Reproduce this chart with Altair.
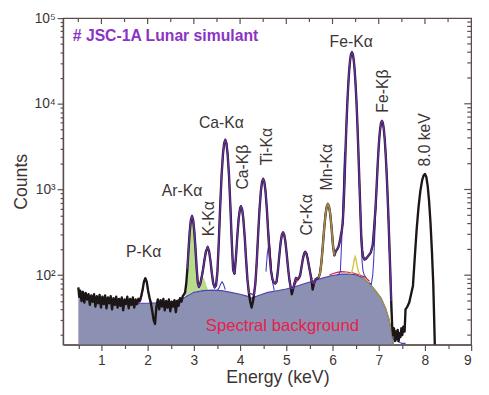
import altair as alt
import pandas as pd

# ---------------- values ----------------
# measured spectrum (black)
spec_keV = [
    0.50, 0.52, 0.54, 0.57, 0.60, 0.63, 0.66, 0.69, 0.72, 0.75, 0.78, 0.81, 0.84, 0.87, 0.90,
    0.93, 0.96, 0.99, 1.02, 1.05, 1.08, 1.11, 1.14, 1.17, 1.20, 1.23, 1.26, 1.29, 1.32, 1.35,
    1.38, 1.41, 1.44, 1.47, 1.50, 1.53, 1.56, 1.59, 1.62, 1.65, 1.68, 1.71, 1.74, 1.77, 1.80,
    1.83, 1.86, 1.89, 1.92, 1.95, 1.98, 2.01, 2.04, 2.07, 2.10, 2.13, 2.16, 2.19, 2.22, 2.25,
    2.28, 2.31, 2.34, 2.37, 2.40, 2.43, 2.46, 2.49, 2.52, 2.55, 2.58, 2.61, 2.64, 2.67, 2.70,
    2.73, 2.76, 2.79, 2.81, 2.835, 2.86, 2.885, 2.91, 2.935, 2.96, 2.985, 3.01, 3.035, 3.06, 3.085,
    3.11, 3.14, 3.17, 3.20, 3.23, 3.26, 3.30, 3.33, 3.36, 3.39, 3.42, 3.45, 3.48, 3.51, 3.54,
    3.57, 3.60, 3.63, 3.655, 3.68, 3.705, 3.73, 3.76, 3.79, 3.82, 3.85, 3.88, 3.91, 3.94, 3.97,
    4.00, 4.02, 4.045, 4.07, 4.10, 4.13, 4.16, 4.19, 4.22, 4.25, 4.28, 4.30, 4.33, 4.36, 4.39,
    4.42, 4.45, 4.475, 4.50, 4.525, 4.55, 4.58, 4.61, 4.64, 4.67, 4.70, 4.73, 4.76, 4.79, 4.82,
    4.85, 4.88, 4.905, 4.93, 4.955, 4.98, 5.01, 5.04, 5.07, 5.10, 5.12, 5.15, 5.18, 5.21, 5.24,
    5.27, 5.30, 5.33, 5.36, 5.385, 5.41, 5.435, 5.46, 5.49, 5.52, 5.55, 5.57, 5.60, 5.63, 5.67,
    5.70, 5.73, 5.76, 5.79, 5.82, 5.85, 5.875, 5.90, 5.925, 5.95, 5.98, 6.01, 6.04, 6.07, 6.10,
    6.13, 6.16, 6.18, 6.20, 6.22, 6.24, 6.26, 6.28, 6.30, 6.32, 6.34, 6.36, 6.38, 6.40, 6.42,
    6.44, 6.46, 6.48, 6.50, 6.52, 6.54, 6.56, 6.58, 6.60, 6.62, 6.64, 6.66, 6.69, 6.72, 6.75,
    6.79, 6.83, 6.87, 6.89, 6.91, 6.93, 6.95, 6.97, 6.99, 7.01, 7.03, 7.05, 7.07, 7.09, 7.11,
    7.13, 7.15, 7.17, 7.19, 7.21, 7.23, 7.25, 7.27, 7.29, 7.31, 7.33, 7.35, 7.37, 7.39, 7.41,
    7.43, 7.45, 7.47, 7.49, 7.51, 7.53, 7.56, 7.58, 7.62, 7.66, 7.70, 7.74, 7.78, 7.82, 7.86,
    7.90, 7.94, 7.97, 8.00, 8.03, 8.06, 8.09, 8.12, 8.15, 8.18, 8.20, 8.215,
]
spec_counts = [
    72, 56, 66, 50, 64, 48, 62, 52, 60, 45, 58, 49, 60, 43, 57,
    47, 59, 42, 56, 46, 58, 41, 55, 47, 57, 40, 54, 45, 56, 42,
    53, 44, 55, 39, 52, 46, 56, 41, 53, 45, 55, 42, 52, 46, 53,
    50, 57, 67, 84, 92, 84, 66, 55, 47, 38, 30, 27, 43, 52, 40,
    51, 43, 53, 39, 50, 42, 52, 38, 49, 43, 51, 37, 50, 44, 54,
    49, 57, 60, 63, 80, 119, 200, 321, 439, 489, 439, 323, 204, 122, 82,
    73, 80, 95, 118, 152, 188, 213, 190, 146, 104, 80, 72, 76, 110, 247,
    646, 1466, 2608, 3454, 3797, 3454, 2607, 1465, 640, 246, 115, 104, 160, 285, 461,
    603, 636, 585, 457, 281, 152, 88, 62, 49, 42, 50, 59, 79, 141, 296,
    580, 958, 1226, 1330, 1226, 960, 584, 302, 170, 112, 90, 82, 80, 84, 115,
    172, 246, 297, 316, 297, 247, 175, 118, 86, 70, 60, 70, 82, 93, 90,
    92, 100, 125, 156, 178, 187, 179, 158, 128, 105, 84, 68, 80, 89, 92,
    94, 106, 141, 219, 353, 519, 631, 677, 632, 521, 356, 223, 170, 190, 200,
    215, 250, 290, 330, 400, 640, 1242, 2732, 5512, 10070, 16540, 24360, 32140, 37940, 40100,
    37940, 32140, 24360, 16540, 10070, 5510, 2730, 1300, 620, 300, 200, 165, 152, 155, 162,
    172, 185, 225, 300, 420, 600, 960, 1620, 2632, 3850, 5066, 5963, 6300, 5957, 5054,
    3830, 2607, 1589, 900, 470, 230, 110, 50, 26, 20, 24, 17, 22, 18, 23,
    17, 21, 19, 24, 20, 25, 22, 40, 43, 48, 60, 75, 161, 339, 613,
    958, 1286, 1458, 1520, 1400, 1094, 725, 409, 195, 79, 30, 14,
]

# spectral background (filled)
bg_keV = [0.5, 0.6, 0.8, 1.0, 1.3, 1.6, 2.0, 2.4, 2.6, 2.8, 2.9, 3.0, 3.2, 3.4, 3.6, 3.8,
          4.0, 4.15, 4.25, 4.4, 4.6, 4.8, 5.0, 5.2, 5.4, 5.6, 5.8, 6.0, 6.2, 6.35, 6.5,
          6.65, 6.8, 6.95, 7.05, 7.15, 7.22, 7.28, 7.32]
bg_counts = [68, 62, 55, 51, 49, 47, 47, 48, 50, 55, 59, 63, 66, 67, 66, 63,
             60, 57, 54, 58, 63, 66, 69, 74, 80, 86, 93, 99, 103, 103, 101,
             94, 80, 64, 54, 41, 31, 21, 15]

# fit envelope (purple) uses the measured points over the peaks, except these dips
fit_from_keV, fit_to_keV = 2.84, 7.27
fit_skip_keV = [4.22, 4.25, 4.28, 5.12, 5.57]

# green filled components (Ar-Ka and Ar-Kb)
green_keV = [2.82, 2.85, 2.88, 2.91, 2.935, 2.96, 2.985, 3.01, 3.04, 3.07, 3.10,
             3.10, 3.14, 3.18, 3.22, 3.26, 3.30]
green_top = [66, 97, 179, 321, 440, 490, 441, 323, 184, 104, 75,
             68, 82, 95, 92, 80, 69]
green_base = [56, 58, 60, 61, 62, 63, 63, 64, 65, 65, 66,
              66, 66, 66, 66, 67, 67]
green_seg = ["a"] * 11 + ["b"] * 6

# magenta P-Ka component
mag_keV = [1.80, 1.85, 1.88, 1.91, 1.935, 1.95, 1.965, 1.99, 2.02, 2.05, 2.10]
mag_counts = [47, 51, 60, 77, 90, 92, 90, 77, 60, 51, 47]

# red components
red_keV = [3.12, 3.16, 3.20, 3.24, 3.27,
           4.56, 4.59, 4.62, 4.65, 4.68,
           5.18, 5.22, 5.26, 5.30, 5.33, 5.36, 5.385, 5.41, 5.435, 5.46, 5.49, 5.52, 5.56,
           5.93, 6.00, 6.10, 6.20, 6.30, 6.45, 6.60, 6.70, 6.80]
red_counts = [75, 92, 118, 160, 195,
              800, 480, 300, 200, 110,
              76, 84, 88, 100, 127, 160, 182, 191, 183, 162, 130, 106, 90,
              100, 104, 108, 110, 109, 106, 100, 95, 85]
red_seg = ["a"] * 5 + ["b"] * 5 + ["c"] * 13 + ["d"] * 9

# blue components
blue_keV = [3.50, 3.54, 3.58, 3.61, 3.64, 3.68,
            4.56, 4.59, 4.62, 4.645, 4.67, 4.70, 4.74,
            6.10, 6.14, 6.17, 6.20, 6.22, 6.24, 6.26,
            6.58, 6.60, 6.62, 6.64, 6.66, 6.69, 6.73,
            6.80, 6.84, 6.87, 6.89, 6.91, 6.93, 6.95,
            7.19, 7.21, 7.23, 7.25, 7.27, 7.29, 7.31, 7.40, 7.50, 7.58]
blue_counts = [66, 70, 79, 84, 79, 68,
               110, 180, 225, 200, 130, 85, 66,
               101, 103, 112, 257, 546, 1242, 2732,
               1242, 546, 257, 145, 112, 99, 93,
               82, 78, 100, 145, 252, 481, 913,
               876, 438, 203, 90, 42, 24, 18, 17, 16, 16]
blue_seg = ["a"] * 6 + ["b"] * 7 + ["c"] * 7 + ["d"] * 7 + ["e"] * 7 + ["f"] * 10

# olive Mn-Ka (taken from measured points) and yellow Mn-Kb
mn_from_keV, mn_to_keV = 5.68, 6.05
yel_keV = [6.38, 6.42, 6.45, 6.47, 6.49, 6.51, 6.53, 6.56, 6.60]
yel_counts = [103, 110, 130, 152, 165, 152, 130, 110, 99]

# peak labels
label_text = ["P-Kα", "Ar-Kα", "Ca-Kα", "Fe-Kα", "K-Kα", "Ca-Kβ", "Ti-Kα",
              "Cr-Kα", "Mn-Kα", "Fe-Kβ", "8.0 keV"]
label_keV = [1.915, 2.745, 3.596, 6.404, 3.319, 4.064, 4.574, 5.447, 5.872, 7.085, 8.0]
label_counts = [187, 950, 5930, 52000, 456, 1824, 3162, 507, 1824, 14060, 3800]
label_angle = [0, 0, 0, 0, 270, 270, 270, 270, 270, 270, 270]

title_text = "# JSC-1A Lunar simulant"
title_keV, title_counts = 0.38, 62000
bgtext = "Spectral background"
bgtext_keV, bgtext_counts = 4.915, 25.6

x_ticks = [0.5, 1, 1.5, 2, 2.5, 3, 3.5, 4, 4.5, 5, 5.5, 6, 6.5, 7, 7.5, 8, 8.5, 9]
y_ticks = [m * 10 ** p for p in range(1, 5) for m in range(1, 10) if m * 10 ** p >= 20] + [100000]

# ---------------- chart ----------------
W, H = 415, 332
YMIN, YMAX = 15.5, 100000
FONT = "Liberation Sans"
AX = "#5b4d4d"
TXT = "#3c3434"

xs = alt.Scale(domain=[0.17, 9], nice=False, zero=False)
ys = alt.Scale(type="log", domain=[YMIN, YMAX], nice=False)

x_axis = alt.Axis(
    title="Energy (keV)", values=x_ticks, grid=False,
    labelExpr="datum.value % 1 == 0 ? format(datum.value, 'd') : ''",
    tickSize={"condition": {"test": "datum.value % 1 == 0", "value": 6}, "value": 4},
    labelFont=FONT, labelFontSize=14, labelColor=TXT, labelPadding=3,
    titleFont=FONT, titleFontSize=18, titleColor=TXT, titleFontWeight="normal",
    titlePadding=2, titleX=218,
    domainColor=AX, tickColor=AX, domainWidth=1.3, tickWidth=1.2, labelOverlap=False,
)
y_axis = alt.Axis(
    title="Counts", values=y_ticks, grid=False,
    labelExpr="datum.value == 100 ? '10²' : datum.value == 1000 ? '10³' : "
              "datum.value == 10000 ? '10⁴' : datum.value == 100000 ? '10⁵' : ''",
    tickSize={"condition": {"test": "datum.value == 100 || datum.value == 1000 || "
                                    "datum.value == 10000 || datum.value == 100000",
                            "value": 6}, "value": 3},
    labelFont=FONT, labelFontSize=14, labelColor=TXT, labelPadding=2,
    titleFont=FONT, titleFontSize=18, titleColor=TXT, titleFontWeight="normal",
    titlePadding=4,
    domainColor=AX, tickColor=AX, domainWidth=1.3, tickWidth=1.2, labelOverlap=False,
)

X = alt.X("keV:Q", scale=xs, axis=x_axis)
Y = alt.Y("counts:Q", scale=ys, axis=y_axis)

spec_df = pd.DataFrame({"keV": spec_keV, "counts": spec_counts})
bg_df = pd.DataFrame({"keV": bg_keV, "counts": bg_counts})
fit_df = spec_df[(spec_df.keV >= fit_from_keV) & (spec_df.keV <= fit_to_keV)
                 & (~spec_df.keV.isin(fit_skip_keV))]
mn_df = spec_df[(spec_df.keV >= mn_from_keV) & (spec_df.keV <= mn_to_keV)]
edge_df = bg_df[bg_df.keV >= 6.6]
green_df = pd.DataFrame({"keV": green_keV, "counts": green_top, "base": green_base, "seg": green_seg})
mag_df = pd.DataFrame({"keV": mag_keV, "counts": mag_counts})
red_df = pd.DataFrame({"keV": red_keV, "counts": red_counts, "seg": red_seg})
blue_df = pd.DataFrame({"keV": blue_keV, "counts": blue_counts, "seg": blue_seg})
yel_df = pd.DataFrame({"keV": yel_keV, "counts": yel_counts})
lab_df = pd.DataFrame({"keV": label_keV, "counts": label_counts, "t": label_text, "a": label_angle})
title_df = pd.DataFrame({"keV": [title_keV], "counts": [title_counts], "t": [title_text]})
bgt_df = pd.DataFrame({"keV": [bgtext_keV], "counts": [bgtext_counts], "t": [bgtext]})
xt_major = pd.DataFrame({"keV": [v for v in x_ticks[:-1] if v % 1 == 0]})
xt_minor = pd.DataFrame({"keV": [v for v in x_ticks[:-1] if v % 1 != 0]})
yt_major = pd.DataFrame({"counts": [v for v in y_ticks[:-1] if v in (100, 1000, 10000)]})
yt_minor = pd.DataFrame({"counts": [v for v in y_ticks[:-1] if v not in (100, 1000, 10000)]})

bg_area = alt.Chart(bg_df).mark_area(color="#8c90b2", opacity=1, clip=True).encode(
    x=X, y=Y, y2=alt.datum(YMIN))
bg_line = alt.Chart(bg_df).mark_line(color="#4b45b0", strokeWidth=1.1, clip=True).encode(x=X, y=Y)
edge_line = alt.Chart(edge_df).mark_line(color="#a89a3a", strokeWidth=1.2, clip=True).encode(x=X, y=Y)
green = alt.Chart(green_df).mark_area(color="#b9db8e", opacity=1, clip=True).encode(
    x=X, y=Y, y2="base:Q", detail="seg:N")
spec = alt.Chart(spec_df).mark_line(color="#1c1616", strokeWidth=2.4, clip=True,
                                    strokeJoin="round").encode(x=X, y=Y)
fit = alt.Chart(fit_df).mark_line(color="#6a2fa8", strokeWidth=1.4, clip=True).encode(x=X, y=Y)
mag = alt.Chart(mag_df).mark_line(color="#d02cc0", strokeWidth=1.3, clip=True).encode(x=X, y=Y)
red = alt.Chart(red_df).mark_line(color="#e0203a", strokeWidth=1.2, clip=True).encode(
    x=X, y=Y, detail="seg:N")
blue = alt.Chart(blue_df).mark_line(color="#4040c0", strokeWidth=1.1, clip=True).encode(
    x=X, y=Y, detail="seg:N")
mn = alt.Chart(mn_df).mark_line(color="#a8903a", strokeWidth=1.6, clip=True).encode(x=X, y=Y)
yel = alt.Chart(yel_df).mark_line(color="#d4c048", strokeWidth=1.4, clip=True).encode(x=X, y=Y)

labels = alt.Chart(lab_df).mark_text(font=FONT, fontSize=16, color=TXT, align="center",
                                     baseline="middle").encode(
    x=X, y=Y, text="t:N", angle=alt.Angle("a:Q", scale=None))
title = alt.Chart(title_df).mark_text(font=FONT, fontSize=16, fontWeight="bold", color="#8a34c4",
                                      align="left", baseline="middle").encode(x=X, y=Y, text="t:N")
bgt = alt.Chart(bgt_df).mark_text(font=FONT, fontSize=17, color="#e8204a", align="center",
                                  baseline="middle").encode(x=X, y=Y, text="t:N")

top_major = alt.Chart(xt_major).mark_rule(color=AX, strokeWidth=1.2).encode(
    x=X, y=alt.value(0), y2=alt.value(6))
top_minor = alt.Chart(xt_minor).mark_rule(color=AX, strokeWidth=1.2).encode(
    x=X, y=alt.value(0), y2=alt.value(4))
right_major = alt.Chart(yt_major).mark_rule(color=AX, strokeWidth=1.2).encode(
    y=Y, x=alt.value(W), x2=alt.value(W - 7))
right_minor = alt.Chart(yt_minor).mark_rule(color=AX, strokeWidth=1.2).encode(
    y=Y, x=alt.value(W), x2=alt.value(W - 4))

chart = alt.layer(
    bg_area, green, bg_line, edge_line, red, blue, mag, spec, fit, mn, yel,
    labels, title, bgt, top_major, top_minor, right_major, right_minor,
).properties(
    width=W, height=H,
    autosize=alt.AutoSizeParams(type="none"),
    padding={"left": 56, "top": 7, "right": 10, "bottom": 48},
    background="white",
).configure_view(stroke=AX, strokeWidth=1.3)

chart.save("out.html", embed_options={"renderer": "svg", "actions": False})
